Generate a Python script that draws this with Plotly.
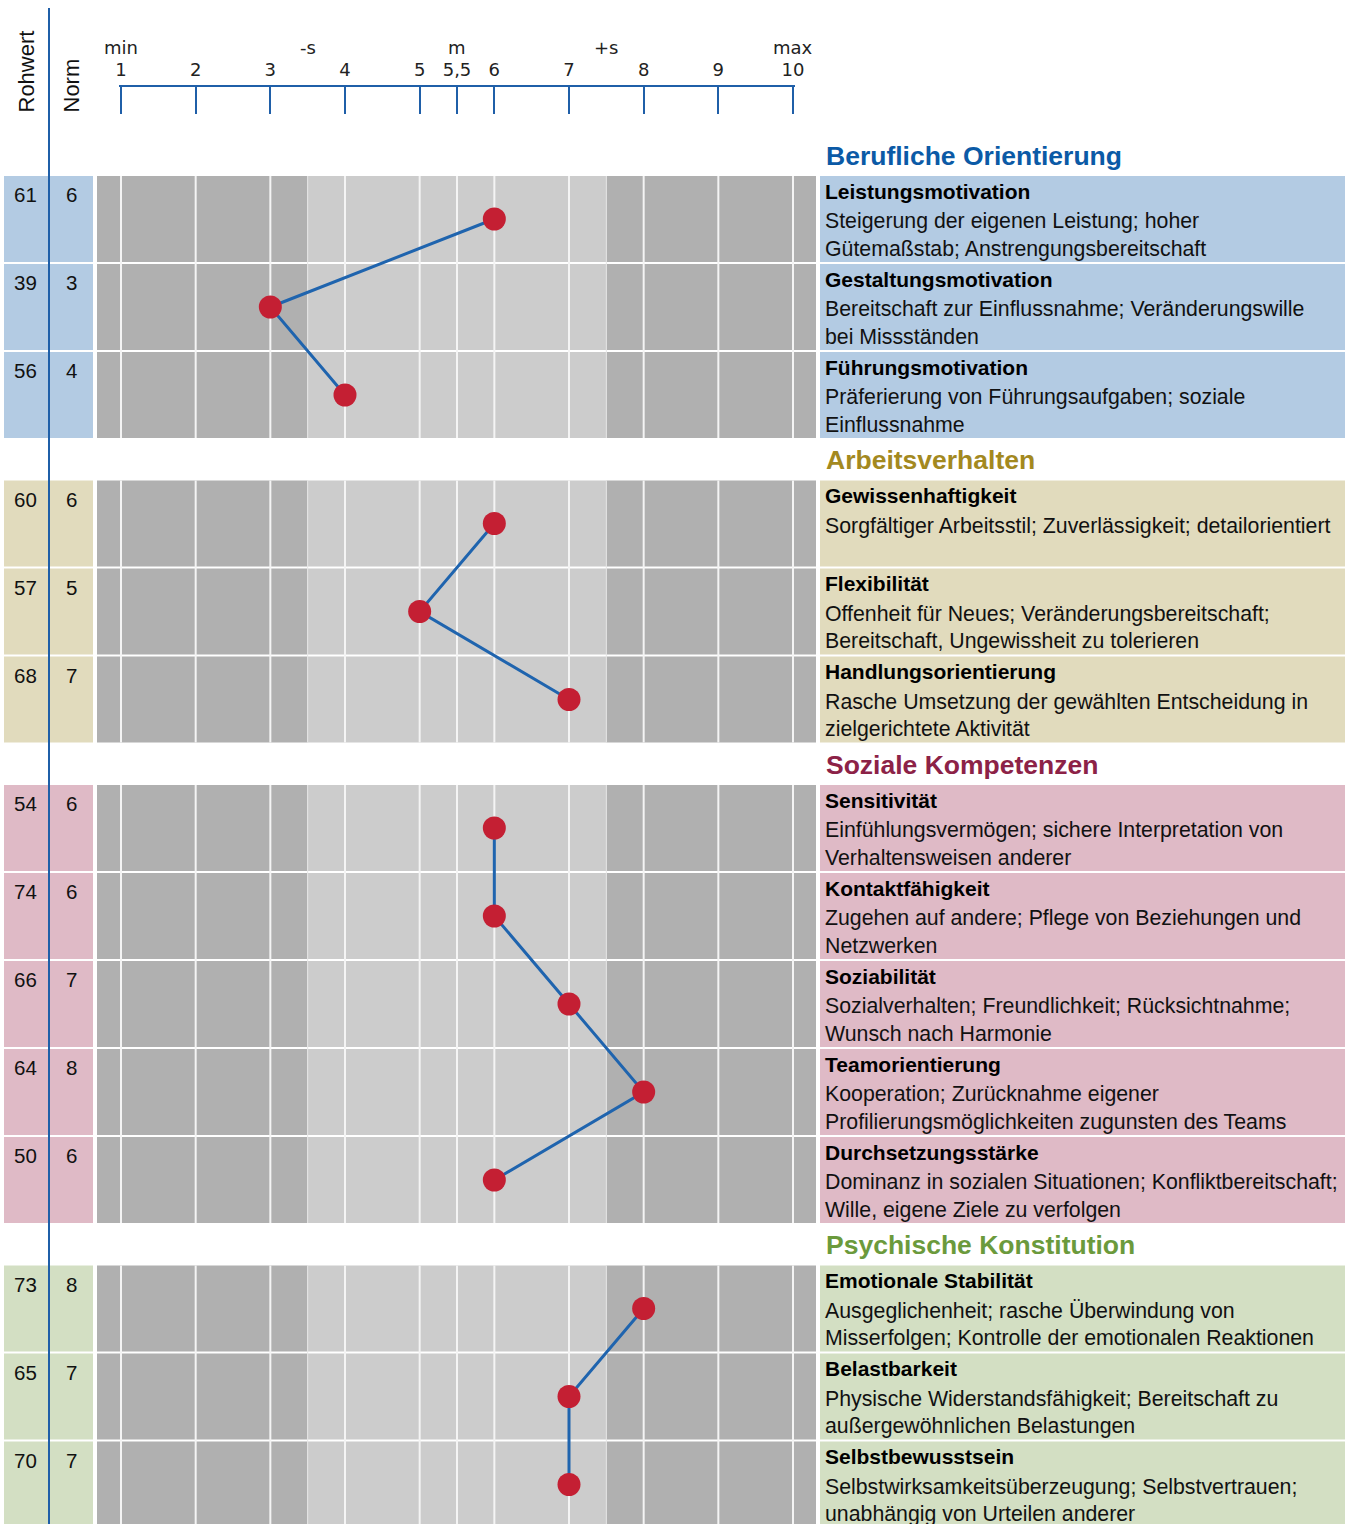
import plotly.graph_objects as go

# ---------------- data ----------------
section_names = ["Berufliche Orientierung", "Arbeitsverhalten", "Soziale Kompetenzen", "Psychische Konstitution"]
section_of_row = [0, 0, 0, 1, 1, 1, 2, 2, 2, 2, 2, 3, 3, 3]
categories = [
    "Leistungsmotivation", "Gestaltungsmotivation", "Führungsmotivation",
    "Gewissenhaftigkeit", "Flexibilität", "Handlungsorientierung",
    "Sensitivität", "Kontaktfähigkeit", "Soziabilität", "Teamorientierung", "Durchsetzungsstärke",
    "Emotionale Stabilität", "Belastbarkeit", "Selbstbewusstsein",
]
descriptions = [
    ["Steigerung der eigenen Leistung; hoher", "Gütemaßstab; Anstrengungsbereitschaft"],
    ["Bereitschaft zur Einflussnahme; Veränderungswille", "bei Missständen"],
    ["Präferierung von Führungsaufgaben; soziale", "Einflussnahme"],
    ["Sorgfältiger Arbeitsstil; Zuverlässigkeit; detailorientiert"],
    ["Offenheit für Neues; Veränderungsbereitschaft;", "Bereitschaft, Ungewissheit zu tolerieren"],
    ["Rasche Umsetzung der gewählten Entscheidung in", "zielgerichtete Aktivität"],
    ["Einfühlungsvermögen; sichere Interpretation von", "Verhaltensweisen anderer"],
    ["Zugehen auf andere; Pflege von Beziehungen und", "Netzwerken"],
    ["Sozialverhalten; Freundlichkeit; Rücksichtnahme;", "Wunsch nach Harmonie"],
    ["Kooperation; Zurücknahme eigener", "Profilierungsmöglichkeiten zugunsten des Teams"],
    ["Dominanz in sozialen Situationen; Konfliktbereitschaft;", "Wille, eigene Ziele zu verfolgen"],
    ["Ausgeglichenheit; rasche Überwindung von", "Misserfolgen; Kontrolle der emotionalen Reaktionen"],
    ["Physische Widerstandsfähigkeit; Bereitschaft zu", "außergewöhnlichen Belastungen"],
    ["Selbstwirksamkeitsüberzeugung; Selbstvertrauen;", "unabhängig von Urteilen anderer"],
]
rohwert = [61, 39, 56, 60, 57, 68, 54, 74, 66, 64, 50, 73, 65, 70]
norm = [6, 3, 4, 6, 5, 7, 6, 6, 7, 8, 6, 8, 7, 7]

scale_ticks = [1, 2, 3, 4, 5, 5.5, 6, 7, 8, 9, 10]
scale_ticktext = ["1", "2", "3", "4", "5", "5,5", "6", "7", "8", "9", "10"]
scale_marks = [1, 3.5, 5.5, 7.5, 10]
scale_marktext = ["min", "-s", "m", "+s", "max"]
band_edges = [3.5, 7.5]  # -s / +s

# ---------------- styles / layout ----------------
W, H = 1347, 1524
FONT = "Liberation Sans, Arial, sans-serif"
SCALE_FONT = "DejaVu Sans, Verdana, sans-serif"
sec_fill = ["#b3cbe3", "#e1dbbd", "#dfbac6", "#d3dfc3"]
sec_head = ["#0b5aa6", "#a3891f", "#8c2247", "#6b9a3c"]
DARK, LIGHT = "#b0b0b0", "#cccccc"
BLUE_LINE = "#1f5fa8"

PX1, PX10 = 121, 793
PPU = (PX10 - PX1) / 9.0
EPS = 0.03


def v_of_px(p):
    return 1 + (p - PX1) / PPU


def px(p):
    return p / W


FIRST_TOP, PITCH, GAP, ROW_H = 176, 88, 40.5, 86
row_top = [FIRST_TOP + PITCH * i + GAP * s for i, s in enumerate(section_of_row)]
row_mid = [t + 43 for t in row_top]

PLOT_L, PLOT_R = v_of_px(97), v_of_px(816)
TEXT_X = 823

shapes = []
annotations = []

for i, top in enumerate(row_top):
    s = section_of_row[i]
    bot = top + ROW_H
    shapes.append(dict(type="rect", xref="paper", yref="y", x0=px(4), x1=px(93), y0=top, y1=bot,
                       fillcolor=sec_fill[s], line_width=0, layer="below"))
    shapes.append(dict(type="rect", xref="paper", yref="y", x0=px(820), x1=px(1345), y0=top, y1=bot,
                       fillcolor=sec_fill[s], line_width=0, layer="below"))
    for x0, x1, c in [(PLOT_L, band_edges[0], DARK), (band_edges[0], band_edges[1], LIGHT),
                      (band_edges[1], PLOT_R, DARK)]:
        shapes.append(dict(type="rect", xref="x", yref="y", x0=x0, x1=x1, y0=top, y1=bot,
                           fillcolor=c, line_width=0, layer="below"))
    annotations.append(dict(xref="paper", yref="y", x=px(26), y=top + 18.5, xanchor="center",
                            text=str(rohwert[i]), showarrow=False,
                            font=dict(family=FONT, size=20.5, color="#111")))
    annotations.append(dict(xref="paper", yref="y", x=px(71), y=top + 18.5, xanchor="center",
                            text=str(norm[i]), showarrow=False,
                            font=dict(family=FONT, size=20.5, color="#111")))
    annotations.append(dict(xref="paper", yref="y", x=px(TEXT_X), y=top + 15, xanchor="left",
                            text="<b>%s</b>" % categories[i], showarrow=False,
                            font=dict(family=FONT, size=21, color="#000")))
    for k, line in enumerate(descriptions[i]):
        annotations.append(dict(xref="paper", yref="y", x=px(TEXT_X), y=top + 45 + 27.5 * k, xanchor="left",
                                text=line, showarrow=False,
                                font=dict(family=FONT, size=21.3, color="#111")))

for s in range(len(section_names)):
    rows = [i for i, ss in enumerate(section_of_row) if ss == s]
    y0 = row_top[rows[0]]
    y1 = row_top[rows[-1]] + ROW_H
    for v in scale_ticks:
        shapes.append(dict(type="line", xref="x", yref="y", x0=v, x1=v, y0=y0, y1=y1,
                           line=dict(color="#f4f4f4", width=2), layer="below"))
    for v in band_edges:
        shapes.append(dict(type="line", xref="x", yref="y", x0=v, x1=v, y0=y0, y1=y1,
                           line=dict(color="#e6e6e6", width=1), layer="below"))
    annotations.append(dict(xref="paper", yref="y", x=px(TEXT_X + 1), y=y0 - 20.5, xanchor="left",
                            text="<b>%s</b>" % section_names[s], showarrow=False,
                            font=dict(family=FONT, size=26.5, color=sec_head[s])))

shapes.append(dict(type="line", xref="paper", yref="y", x0=px(49), x1=px(49), y0=8, y1=H,
                   line=dict(color=BLUE_LINE, width=2), layer="above"))

annotations.append(dict(xref="paper", yref="y", x=px(26), y=71.5, xanchor="center", yanchor="middle",
                        text="Rohwert", textangle=-90, showarrow=False,
                        font=dict(family=FONT, size=22, color="#111")))
annotations.append(dict(xref="paper", yref="y", x=px(71), y=85.5, xanchor="center", yanchor="middle",
                        text="Norm", textangle=-90, showarrow=False,
                        font=dict(family=FONT, size=22, color="#111")))

for v, t in zip(scale_marks, scale_marktext):
    annotations.append(dict(xref="x2", yref="y", x=v, y=47, xanchor="center", text=t, showarrow=False,
                            font=dict(family=SCALE_FONT, size=18, color="#222")))

fig = go.Figure()

for s in range(len(section_names)):
    rows = [i for i, ss in enumerate(section_of_row) if ss == s]
    fig.add_trace(go.Scatter(
        x=[norm[i] for i in rows], y=[row_mid[i] for i in rows],
        mode="lines+markers",
        line=dict(color="#1f64ae", width=3),
        marker=dict(size=23, color="#c41f33", line=dict(width=0)),
        hoverinfo="skip", showlegend=False, xaxis="x", yaxis="y"))

fig.add_trace(go.Scatter(x=[1, 10], y=[None, None], mode="markers", xaxis="x2", yaxis="y",
                         showlegend=False, hoverinfo="skip"))

fig.update_layout(
    width=W, height=H,
    margin=dict(l=0, r=0, t=0, b=0, autoexpand=False),
    paper_bgcolor="white", plot_bgcolor="rgba(0,0,0,0)",
    showlegend=False,
    xaxis=dict(domain=[0, 1], range=[v_of_px(0), v_of_px(W)], visible=False, fixedrange=True,
               automargin=False),
    yaxis=dict(domain=[0, 1], range=[H, 0], visible=False, fixedrange=True, automargin=False),
    xaxis2=dict(domain=[px(PX1 - EPS * PPU), px(PX10 + EPS * PPU)], range=[1 - EPS, 10 + EPS],
                side="top", anchor="free", automargin=False,
                position=1 - 86 / H, showline=True, linecolor=BLUE_LINE, linewidth=2,
                ticks="inside", ticklen=27, tickwidth=2, tickcolor=BLUE_LINE,
                tickvals=scale_ticks, ticktext=scale_ticktext, showgrid=False, zeroline=False,
                ticklabelstandoff=2,
                tickfont=dict(family=SCALE_FONT, size=18, color="#222"), fixedrange=True),
    shapes=shapes,
    annotations=annotations,
)

fig.write_html("out.html", config={"displayModeBar": False},
               post_script="document.body.style.margin='0';")
